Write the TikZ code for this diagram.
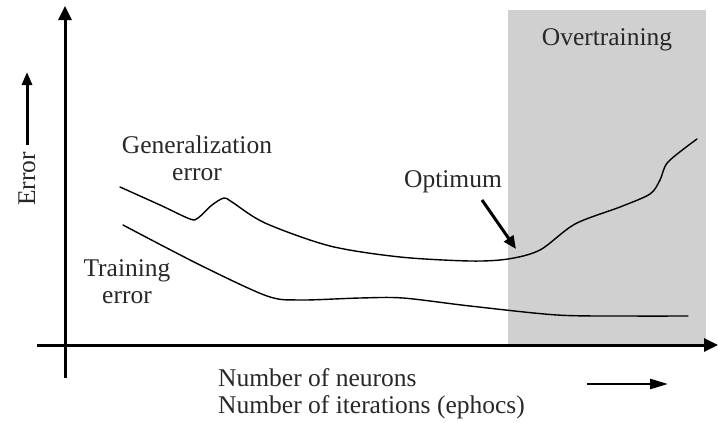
\documentclass[tikz,border=0pt]{standalone}
\usepackage{fontspec}
\setmainfont{Liberation Serif}
\usetikzlibrary{arrows.meta}
\definecolor{overgray}{RGB}{208,208,208}
\definecolor{txt}{RGB}{40,40,40}
\begin{document}
\begin{tikzpicture}[x=1pt,y=-1pt,
  lbl/.style={font=\fontsize{25.5}{27}\selectfont, text=txt, inner sep=0pt, align=center},
  axis/.style={line width=3pt, -{Triangle[length=14pt,width=13pt]}},
  curve/.style={line width=1.4pt, line join=round, line cap=round},
  pointer/.style={line width=3pt, -{Triangle[length=13pt,width=11pt]}}]
\useasboundingbox (0,0) rectangle (718,423);
\fill[overgray] (508,10) rectangle (706,345);
\node[lbl] (over) at (607,40) {Overtraining};
% axes
\coordinate (yb) at (65,378);
\coordinate (yt) at (65,6);
\coordinate (xl) at (37,345);
\coordinate (xr) at (718,345);
\draw[axis] (yb) -- (yt);
\draw[axis] (xl) -- (xr);
% error label
\node[lbl, rotate=90] (err) at (27,179) {Error};
\coordinate (ea) at (27,145);
\coordinate (eb) at (27,72);
\draw[line width=3pt, -{Triangle[length=13pt,width=10pt]}] (ea) -- (eb);
% generalization curve
\draw[curve] plot[smooth, tension=0.5] coordinates {(120,187) (160,205) (190,219) (198,218) (212,205) (224,198) (232,202) (265,223) (330,246) (400,257) (470,261) (508,259) (540,250) (575,224) (620,207) (650,194) (660,180) (668,162) (697,139)};
% training curve
\draw[curve] plot[smooth, tension=0.5] coordinates {(123,225) (200,265) (267,296) (300,300) (360,298) (403,298) (470,306) (557,315) (627,316) (688,316)};
% labels
\node[lbl] (gen) at (197,158) {Generalization\\error};
\node[lbl] (train) at (127,282) {Training\\error};
\node[lbl] (opt) at (453,182) {Optimum};
\coordinate (oa) at (482,200);
\coordinate (ob) at (516,249);
\draw[pointer] (oa) -- (ob);
\node[lbl, align=left, anchor=north west] (xlab) at (218,368) {Number of neurons\\Number of iterations (ephocs)};
\coordinate (sa) at (587,384);
\coordinate (sb) at (668,384);
\draw[line width=2.5pt, -{Triangle[length=18pt,width=10pt]}] (sa) -- (sb);
\end{tikzpicture}
\end{document}
